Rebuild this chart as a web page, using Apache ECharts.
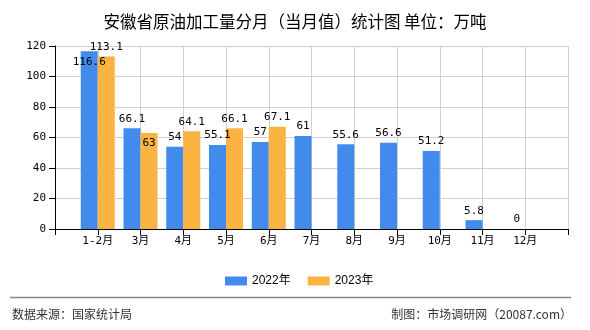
<!DOCTYPE html>
<html>
<head>
<meta charset="utf-8">
<script src="https://cdn.jsdelivr.net/npm/echarts@6/dist/echarts.min.js"></script>
<style>
html,body{margin:0;padding:0;background:#fff;}
#c{width:590px;height:330px;}
</style>
</head>
<body>
<div id="c"></div>
<script>
var categories = ['1-2月','3月','4月','5月','6月','7月','8月','9月','10月','11月','12月'];
var values2022 = [116.6, 66.1, 54, 55.1, 57, 61, 55.6, 56.6, 51.2, 5.8, 0];
var values2023 = [113.1, 63, 64.1, 66.1, 67.1];
var seriesNames = ['2022年','2023年'];
var yTicks = {min: 0, max: 120, interval: 20};

// label shifts seen in the reference (index in categories -> vertical shift in px)
var labelShift2022 = {0: 20};
var labelShift2023 = {1: 20};

var axisCats = [''].concat(categories).concat(['']);
function buildData(vals, shifts) {
  var out = [null];
  for (var i = 0; i < categories.length; i++) {
    var v = i < vals.length ? vals[i] : null;
    if (v === null) { out.push(null); continue; }
    var item = {value: v};
    if (shifts[i] !== undefined) item.label = {offset: [0, shifts[i]]};
    out.push(item);
  }
  out.push(null);
  return out;
}

var numFont = "'DejaVu Sans Mono', 'Noto Sans CJK SC', monospace";
var cjkFont = "'Noto Sans CJK SC', sans-serif";

var chart = echarts.init(document.getElementById('c'), null, {renderer: 'canvas'});
chart.setOption({
  animation: false,
  backgroundColor: '#fff',
  title: {
    text: '安徽省原油加工量分月（当月值）统计图 单位：万吨',
    left: 'center',
    top: 8,
    textStyle: {fontSize: 16.5, fontWeight: 'normal', color: '#000', fontFamily: cjkFont}
  },
  legend: {
    left: 220,
    top: 270,
    itemWidth: 22,
    itemHeight: 9,
    itemGap: 17,
    icon: 'rect',
    textStyle: {fontSize: 12, color: '#000', fontFamily: "'Liberation Sans', 'Noto Sans CJK SC', sans-serif"},
    data: seriesNames
  },
  grid: {left: 55, right: 22, top: 46, bottom: 101, containLabel: false},
  xAxis: {
    type: 'category',
    data: axisCats,
    boundaryGap: false,
    axisLine: {show: true, lineStyle: {color: '#000', width: 1}},
    axisTick: {show: true, length: 6, interval: 0, lineStyle: {color: '#000'}},
    axisLabel: {interval: 0, margin: 7, color: '#000', fontSize: 11, fontFamily: numFont},
    splitLine: {show: true, interval: 0, lineStyle: {color: '#d0d0d0', width: 1}}
  },
  yAxis: {
    type: 'value',
    min: yTicks.min,
    max: yTicks.max,
    interval: yTicks.interval,
    axisLine: {show: true, lineStyle: {color: '#000', width: 1}},
    axisTick: {show: true, length: 6, lineStyle: {color: '#000'}},
    axisLabel: {margin: 9, color: '#000', fontSize: 11, fontFamily: numFont},
    splitLine: {show: true, lineStyle: {color: '#d0d0d0', width: 1}}
  },
  series: [
    {
      name: seriesNames[0],
      type: 'bar',
      barWidth: 17,
      barGap: '0%',
      itemStyle: {color: '#428BEC'},
      label: {show: true, position: 'top', distance: 4, color: '#000', fontSize: 11, fontFamily: numFont},
      data: buildData(values2022, labelShift2022)
    },
    {
      name: seriesNames[1],
      type: 'bar',
      barWidth: 17,
      barGap: '0%',
      itemStyle: {color: '#FBB441'},
      label: {show: true, position: 'top', distance: 4, color: '#000', fontSize: 11, fontFamily: numFont},
      data: buildData(values2023, labelShift2023)
    }
  ],
  graphic: [
    {type: 'line', shape: {x1: 10, y1: 297.5, x2: 571, y2: 297.5}, style: {stroke: '#888', lineWidth: 1.5}},
    {type: 'text', left: 12, top: 308, style: {text: '数据来源：国家统计局', fill: '#333', font: "12px 'Noto Sans CJK SC', sans-serif"}},
    {type: 'text', right: 18, top: 308, style: {text: '制图：市场调研网（20087.com）', fill: '#333', font: "12px 'Noto Sans CJK SC', sans-serif"}}
  ]
});
</script>
</body>
</html>
